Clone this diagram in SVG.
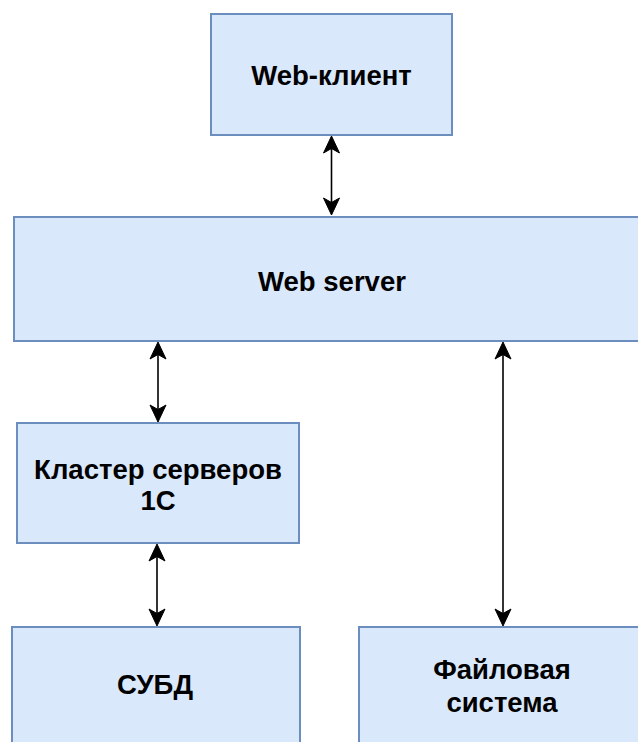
<svg xmlns="http://www.w3.org/2000/svg" width="638" height="742" viewBox="0 0 638 742">
  <style>
    .box { fill: #dae8fc; stroke: #6c8ebf; stroke-width: 2; }
    .lbl { font-family: "Liberation Sans", Arial, sans-serif; font-weight: bold; font-size: 27.5px; fill: #000; text-anchor: middle; }
    .conn { stroke: #000; stroke-width: 1.6; fill: none; marker-start: url(#arr); marker-end: url(#arr); }
  </style>
  <defs>
    <marker id="arr" markerUnits="userSpaceOnUse" viewBox="-20 -10 22 20" refX="-2" refY="0" markerWidth="22" markerHeight="20" orient="auto-start-reverse">
      <path d="M0,0 L-17,-8 L-12.5,0 L-17,8 Z" fill="#000" stroke="#000" stroke-width="1" stroke-linejoin="miter"/>
    </marker>
  </defs>
  <rect width="638" height="742" fill="#ffffff"/>
  <g id="web-client">
    <rect class="box" x="211" y="14" width="241" height="121"/>
    <text class="lbl" x="331.5" y="85">Web-клиент</text>
  </g>
  <g id="web-server">
    <rect class="box" x="14" y="217" width="640" height="124"/>
    <text class="lbl" x="332" y="290.5">Web server</text>
  </g>
  <g id="cluster">
    <rect class="box" x="17" y="423" width="282" height="120"/>
    <text class="lbl" x="158" y="479">Кластер серверов</text>
    <text class="lbl" x="158" y="510">1С</text>
  </g>
  <g id="subd">
    <rect class="box" x="12" y="627" width="288" height="120"/>
    <text class="lbl" x="155" y="693.5">СУБД</text>
  </g>
  <g id="fs">
    <rect class="box" x="359" y="627" width="288" height="120"/>
    <text class="lbl" x="502" y="678.5">Файловая</text>
    <text class="lbl" x="502" y="711.5">система</text>
  </g>
  <g id="connectors">
    <line class="conn" x1="331.5" y1="138" x2="331.5" y2="213"/>
    <line class="conn" x1="158" y1="344" x2="158" y2="420"/>
    <line class="conn" x1="157" y1="546" x2="157" y2="624"/>
    <line class="conn" x1="503" y1="344" x2="503" y2="624"/>
  </g>
</svg>
